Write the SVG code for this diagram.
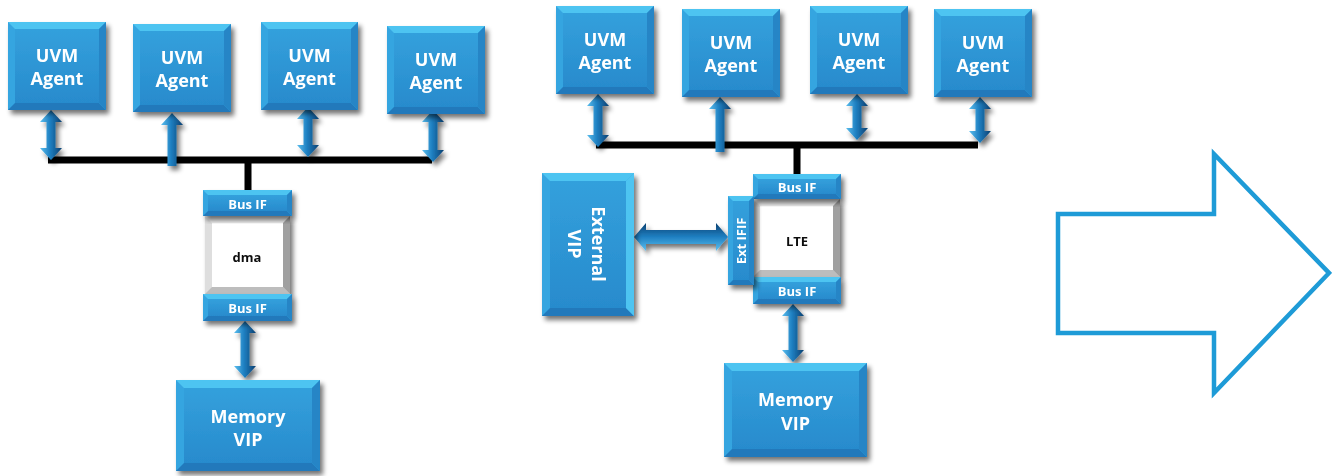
<svg xmlns="http://www.w3.org/2000/svg" width="1332" height="476" viewBox="0 0 1332 476">
<style>
.lbl{font-family:"Open Sans","DejaVu Sans",sans-serif;font-weight:bold;fill:#fff;text-anchor:middle}
.big{font-size:18px}
.sm{font-size:13px}
.blk{fill:#111;font-size:13px}
.face{fill:url(#face)}
.bt{fill:#4ec4f1}
.bb{fill:#2079bb}
.bl{fill:#36a5e0}
.br{fill:#2585c6}
.wface{fill:#fff}
.wt{fill:#ececec}
.wb{fill:#bdbdbd}
.wl{fill:#dedede}
.wr{fill:#a0a0a0}
.bus{stroke:#000;stroke-width:7;fill:none}
.arr{fill:url(#arrg);filter:url(#sh)}
.harr{fill:url(#arrh);filter:url(#sh)}
.node{filter:url(#sh)}
</style>
<defs>
<linearGradient id="face" x1="0" y1="0" x2="0" y2="1">
<stop offset="0" stop-color="#33a0dc"/>
<stop offset="1" stop-color="#288bcd"/>
</linearGradient>
<linearGradient id="arrg" x1="0" y1="0" x2="1" y2="0">
<stop offset="0" stop-color="#5cc0ef"/>
<stop offset="0.45" stop-color="#1f80c2"/>
<stop offset="1" stop-color="#0b3f70"/>
</linearGradient>
<linearGradient id="arrh" x1="0" y1="0" x2="0" y2="1">
<stop offset="0" stop-color="#0b3f70"/>
<stop offset="0.5" stop-color="#1f80c2"/>
<stop offset="1" stop-color="#5cc0ef"/>
</linearGradient>
<filter id="sh" x="-20%" y="-20%" width="150%" height="150%">
<feGaussianBlur in="SourceAlpha" stdDeviation="2.5"/>
<feOffset dx="3" dy="4" result="o"/>
<feComponentTransfer><feFuncA type="linear" slope="0.55"/></feComponentTransfer>
<feMerge><feMergeNode/><feMergeNode in="SourceGraphic"/></feMerge>
</filter>
</defs>

<g id="connectors">
<path class="bus" d="M48 160H432M248 160V191"/>
<path class="bus" d="M596 145H978M797 145V175"/>
<polygon class="arr" points="51,110 62,122 55.5,122 55.5,148 62,148 51,160 40,148 46.5,148 46.5,122 40,122"/>
<polygon class="arr" points="172,113 183,125 176.5,125 176.5,166 167.5,166 167.5,125 161,125"/>
<polygon class="arr" points="308,107 319,119 312.5,119 312.5,145 319,145 308,157 297,145 303.5,145 303.5,119 297,119"/>
<polygon class="arr" points="433,110 444,122 437.5,122 437.5,150 444,150 433,162 422,150 428.5,150 428.5,122 422,122"/>
<polygon class="arr" points="245,321 256,333 249.5,333 249.5,366 256,366 245,378 234,366 240.5,366 240.5,333 234,333"/>
<polygon class="arr" points="598,94 609,106 602.5,106 602.5,135 609,135 598,147 587,135 593.5,135 593.5,106 587,106"/>
<polygon class="arr" points="720,97 731,109 724.5,109 724.5,152 715.5,152 715.5,109 709,109"/>
<polygon class="arr" points="857,94 868,106 861.5,106 861.5,128 868,128 857,140 846,128 852.5,128 852.5,106 846,106"/>
<polygon class="arr" points="980,97 991,109 984.5,109 984.5,131 991,131 980,143 969,131 975.5,131 975.5,109 969,109"/>
<polygon class="arr" points="793,304 804,316 797.5,316 797.5,350 804,350 793,362 782,350 788.5,350 788.5,316 782,316"/>
<polygon class="harr" points="634,237 646,223 646,230 716,230 716,223 728,237 716,251 716,244 646,244 646,251"/>
</g>

<g id="agentL1" class="node">
<rect class="bl" x="8" y="22" width="98" height="88"/>
<polygon class="bt" points="8,22 106,22 99,29 15,29"/>
<polygon class="bb" points="8,110 106,110 99,103 15,103"/>
<polygon class="br" points="106,22 106,110 99,103 99,29"/>
<rect class="face" x="15" y="29" width="84" height="74"/>
<text class="lbl big" x="57" y="62">UVM</text>
<text class="lbl big" x="57" y="85">Agent</text>
</g>
<g id="agentL2" class="node">
<rect class="bl" x="133" y="24" width="98" height="88"/>
<polygon class="bt" points="133,24 231,24 224,31 140,31"/>
<polygon class="bb" points="133,112 231,112 224,105 140,105"/>
<polygon class="br" points="231,24 231,112 224,105 224,31"/>
<rect class="face" x="140" y="31" width="84" height="74"/>
<text class="lbl big" x="182" y="64">UVM</text>
<text class="lbl big" x="182" y="87">Agent</text>
</g>
<g id="agentL3" class="node">
<rect class="bl" x="261" y="22" width="97" height="88"/>
<polygon class="bt" points="261,22 358,22 351,29 268,29"/>
<polygon class="bb" points="261,110 358,110 351,103 268,103"/>
<polygon class="br" points="358,22 358,110 351,103 351,29"/>
<rect class="face" x="268" y="29" width="83" height="74"/>
<text class="lbl big" x="309.5" y="62">UVM</text>
<text class="lbl big" x="309.5" y="85">Agent</text>
</g>
<g id="agentL4" class="node">
<rect class="bl" x="387" y="26" width="98" height="88"/>
<polygon class="bt" points="387,26 485,26 478,33 394,33"/>
<polygon class="bb" points="387,114 485,114 478,107 394,107"/>
<polygon class="br" points="485,26 485,114 478,107 478,33"/>
<rect class="face" x="394" y="33" width="84" height="74"/>
<text class="lbl big" x="436" y="66">UVM</text>
<text class="lbl big" x="436" y="89">Agent</text>
</g>

<g id="dma" class="node">
<rect class="wl" x="205" y="216" width="85" height="78"/>
<polygon class="wt" points="205,216 290,216 283,223 212,223"/>
<polygon class="wb" points="205,294 290,294 283,287 212,287"/>
<polygon class="wr" points="290,216 290,294 283,287 283,223"/>
<rect class="wface" x="212" y="223" width="71" height="64"/>
<text class="lbl blk" x="247" y="262">dma</text>
</g>
<g id="busIfL1" class="node">
<rect class="bl" x="203" y="190" width="89" height="26"/>
<polygon class="bt" points="203,190 292,190 287,195 208,195"/>
<polygon class="bb" points="203,216 292,216 287,211 208,211"/>
<polygon class="br" points="292,190 292,216 287,211 287,195"/>
<rect class="face" x="208" y="195" width="79" height="16"/>
<text class="lbl sm" x="247.5" y="208.5">Bus IF</text>
</g>
<g id="busIfL2" class="node">
<rect class="bl" x="203" y="294" width="89" height="27"/>
<polygon class="bt" points="203,294 292,294 287,299 208,299"/>
<polygon class="bb" points="203,321 292,321 287,316 208,316"/>
<polygon class="br" points="292,294 292,321 287,316 287,299"/>
<rect class="face" x="208" y="299" width="79" height="17"/>
<text class="lbl sm" x="247.5" y="313">Bus IF</text>
</g>
<g id="memL" class="node">
<rect class="bl" x="176" y="380" width="144" height="91"/>
<polygon class="bt" points="176,380 320,380 312,388 184,388"/>
<polygon class="bb" points="176,471 320,471 312,463 184,463"/>
<polygon class="br" points="320,380 320,471 312,463 312,388"/>
<rect class="face" x="184" y="388" width="128" height="75"/>
<text class="lbl big" x="248" y="423">Memory</text>
<text class="lbl big" x="248" y="446">VIP</text>
</g>

<g id="agentR1" class="node">
<rect class="bl" x="556" y="6" width="98" height="88"/>
<polygon class="bt" points="556,6 654,6 647,13 563,13"/>
<polygon class="bb" points="556,94 654,94 647,87 563,87"/>
<polygon class="br" points="654,6 654,94 647,87 647,13"/>
<rect class="face" x="563" y="13" width="84" height="74"/>
<text class="lbl big" x="605" y="46">UVM</text>
<text class="lbl big" x="605" y="69">Agent</text>
</g>
<g id="agentR2" class="node">
<rect class="bl" x="682" y="9" width="98" height="88"/>
<polygon class="bt" points="682,9 780,9 773,16 689,16"/>
<polygon class="bb" points="682,97 780,97 773,90 689,90"/>
<polygon class="br" points="780,9 780,97 773,90 773,16"/>
<rect class="face" x="689" y="16" width="84" height="74"/>
<text class="lbl big" x="731" y="49">UVM</text>
<text class="lbl big" x="731" y="72">Agent</text>
</g>
<g id="agentR3" class="node">
<rect class="bl" x="810" y="6" width="98" height="88"/>
<polygon class="bt" points="810,6 908,6 901,13 817,13"/>
<polygon class="bb" points="810,94 908,94 901,87 817,87"/>
<polygon class="br" points="908,6 908,94 901,87 901,13"/>
<rect class="face" x="817" y="13" width="84" height="74"/>
<text class="lbl big" x="859" y="46">UVM</text>
<text class="lbl big" x="859" y="69">Agent</text>
</g>
<g id="agentR4" class="node">
<rect class="bl" x="934" y="9" width="98" height="88"/>
<polygon class="bt" points="934,9 1032,9 1025,16 941,16"/>
<polygon class="bb" points="934,97 1032,97 1025,90 941,90"/>
<polygon class="br" points="1032,9 1032,97 1025,90 1025,16"/>
<rect class="face" x="941" y="16" width="84" height="74"/>
<text class="lbl big" x="983" y="49">UVM</text>
<text class="lbl big" x="983" y="72">Agent</text>
</g>

<g id="externalVip" class="node">
<rect class="bl" x="542" y="173" width="92" height="143"/>
<polygon class="bt" points="542,173 634,173 626,181 550,181"/>
<polygon class="bb" points="542,316 634,316 626,308 550,308"/>
<polygon class="bt" points="634,173 634,316 626,308 626,181"/>
<rect class="face" x="550" y="181" width="76" height="127"/>
<g transform="translate(588,244) rotate(90)">
<text class="lbl big" x="0" y="-4">External</text>
<text class="lbl big" x="0" y="20">VIP</text>
</g>
</g>

<g id="lte" class="node">
<rect class="wl" x="753" y="199" width="87" height="78"/>
<polygon class="wt" points="753,199 840,199 833,206 760,206"/>
<polygon class="wb" points="753,277 840,277 833,270 760,270"/>
<polygon class="wr" points="840,199 840,277 833,270 833,206"/>
<rect class="wface" x="760" y="206" width="73" height="64"/>
<text class="lbl blk" x="797" y="246">LTE</text>
</g>
<g id="busIfR1" class="node">
<rect class="bl" x="753" y="174" width="88" height="25"/>
<polygon class="bt" points="753,174 841,174 836,179 758,179"/>
<polygon class="bb" points="753,199 841,199 836,194 758,194"/>
<polygon class="br" points="841,174 841,199 836,194 836,179"/>
<rect class="face" x="758" y="179" width="78" height="15"/>
<text class="lbl sm" x="797" y="192">Bus IF</text>
</g>
<g id="busIfR2" class="node">
<rect class="bl" x="753" y="277" width="88" height="27"/>
<polygon class="bt" points="753,277 841,277 836,282 758,282"/>
<polygon class="bb" points="753,304 841,304 836,299 758,299"/>
<polygon class="br" points="841,277 841,304 836,299 836,282"/>
<rect class="face" x="758" y="282" width="78" height="17"/>
<text class="lbl sm" x="797" y="296">Bus IF</text>
</g>
<g id="extIf" class="node">
<rect class="bl" x="728" y="196" width="26" height="89"/>
<polygon class="bt" points="728,196 754,196 749,201 733,201"/>
<polygon class="bb" points="728,285 754,285 749,280 733,280"/>
<polygon class="br" points="754,196 754,285 749,280 749,201"/>
<rect class="face" x="733" y="201" width="16" height="79"/>
<text class="lbl sm" transform="translate(741,241) rotate(-90)" x="0" y="5">Ext IFIF</text>
</g>
<g id="memR" class="node">
<rect class="bl" x="724" y="363" width="143" height="94"/>
<polygon class="bt" points="724,363 867,363 859,371 732,371"/>
<polygon class="bb" points="724,457 867,457 859,449 732,449"/>
<polygon class="br" points="867,363 867,457 859,449 859,371"/>
<rect class="face" x="732" y="371" width="127" height="78"/>
<text class="lbl big" x="795.5" y="406">Memory</text>
<text class="lbl big" x="795.5" y="430">VIP</text>
</g>

<g id="bigArrow">
<polygon points="1058,214 1214,214 1214,154 1329,273 1214,393 1214,333 1058,333" fill="#fff" stroke="#1e9bd7" stroke-width="4.5" stroke-linejoin="miter"/>
</g>
</svg>
